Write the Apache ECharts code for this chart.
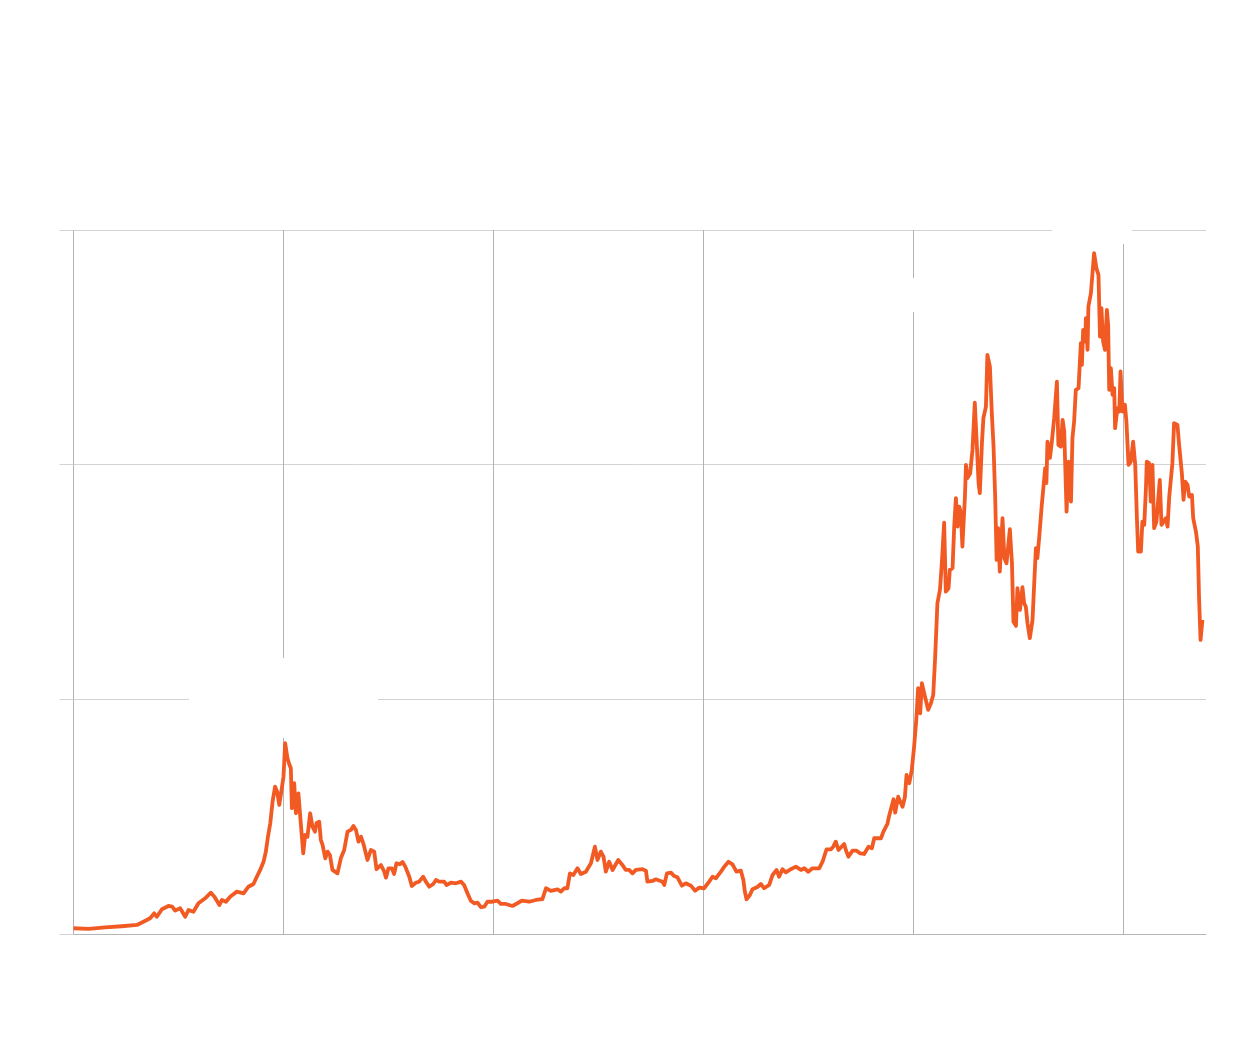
<!DOCTYPE html>
<html>
<head>
<meta charset="utf-8">
<script src="https://cdn.jsdelivr.net/npm/echarts@6/dist/echarts.min.js"></script>
<style>
  html, body { margin: 0; padding: 0; background: #ffffff; }
  #chart { width: 1248px; height: 1048px; }
</style>
</head>
<body>
<div id="chart"></div>
<script>
// Time in decimal years
const years = [
  2017.000,2017.071,2017.151,2017.230,2017.302,2017.333,2017.365,2017.384,2017.397,2017.421,
  2017.452,2017.470,2017.484,2017.508,2017.532,2017.548,2017.571,2017.595,2017.627,2017.654,
  2017.671,2017.695,2017.707,2017.726,2017.746,2017.778,2017.810,2017.833,2017.857,2017.873,
  2017.889,2017.905,2017.916,2017.926,2017.937,2017.948,2017.960,2017.970,2017.980,2017.992,
  2018.000,2018.008,2018.019,2018.027,2018.035,2018.040,2018.051,2018.059,2018.071,2018.083,
  2018.094,2018.103,2018.114,2018.127,2018.138,2018.150,2018.157,2018.170,2018.178,2018.186,
  2018.199,2018.210,2018.221,2018.233,2018.257,2018.273,2018.289,2018.305,2018.321,2018.333,
  2018.345,2018.357,2018.369,2018.380,2018.400,2018.416,2018.432,2018.443,2018.464,2018.480,
  2018.488,2018.500,2018.516,2018.527,2018.538,2018.554,2018.567,2018.580,2018.599,2018.611,
  2018.630,2018.646,2018.665,2018.678,2018.694,2018.713,2018.726,2018.741,2018.765,2018.776,
  2018.797,2018.821,2018.845,2018.860,2018.876,2018.892,2018.908,2018.924,2018.940,2018.956,
  2018.971,2018.995,2019.019,2019.035,2019.059,2019.090,2019.114,2019.135,2019.170,2019.202,
  2019.233,2019.250,2019.273,2019.305,2019.321,2019.337,2019.352,2019.364,2019.380,2019.400,
  2019.416,2019.440,2019.464,2019.483,2019.495,2019.511,2019.524,2019.535,2019.551,2019.567,
  2019.594,2019.614,2019.630,2019.646,2019.662,2019.678,2019.710,2019.726,2019.733,2019.757,
  2019.773,2019.805,2019.813,2019.826,2019.845,2019.860,2019.876,2019.897,2019.916,2019.940,
  2019.960,2019.980,2020.003,2020.027,2020.043,2020.059,2020.083,2020.099,2020.119,2020.138,
  2020.157,2020.178,2020.190,2020.197,2020.205,2020.221,2020.233,2020.257,2020.273,2020.289,
  2020.313,2020.329,2020.348,2020.360,2020.376,2020.392,2020.416,2020.440,2020.464,2020.480,
  2020.499,2020.519,2020.551,2020.567,2020.586,2020.607,2020.618,2020.630,2020.643,2020.670,
  2020.678,2020.690,2020.710,2020.729,2020.745,2020.765,2020.786,2020.802,2020.813,2020.845,
  2020.857,2020.876,2020.884,2020.905,2020.913,2020.927,2020.948,2020.959,2020.967,2020.980,
  2020.992,2021.003,2021.014,2021.022,2021.032,2021.040,2021.051,2021.070,2021.083,2021.094,
  2021.103,2021.111,2021.114,2021.126,2021.135,2021.146,2021.154,2021.167,2021.173,2021.186,
  2021.194,2021.202,2021.210,2021.218,2021.226,2021.233,2021.245,2021.250,2021.257,2021.270,
  2021.281,2021.292,2021.302,2021.310,2021.316,2021.326,2021.333,2021.345,2021.352,2021.364,
  2021.373,2021.381,2021.389,2021.396,2021.403,2021.411,2021.424,2021.433,2021.443,2021.451,
  2021.459,2021.469,2021.476,2021.488,2021.495,2021.507,2021.519,2021.527,2021.535,2021.543,
  2021.554,2021.567,2021.575,2021.583,2021.590,2021.599,2021.611,2021.617,2021.627,2021.633,
  2021.638,2021.650,2021.659,2021.670,2021.683,2021.690,2021.702,2021.710,2021.718,2021.729,
  2021.738,2021.750,2021.757,2021.765,2021.773,2021.786,2021.797,2021.802,2021.808,2021.818,
  2021.821,2021.829,2021.833,2021.845,2021.852,2021.860,2021.871,2021.881,2021.888,2021.895,
  2021.903,2021.912,2021.921,2021.927,2021.932,2021.940,2021.948,2021.956,2021.960,2021.971,
  2021.980,2021.986,2021.995,2022.007,2022.014,2022.024,2022.035,2022.046,2022.056,2022.064,
  2022.070,2022.083,2022.090,2022.099,2022.107,2022.111,2022.122,2022.130,2022.138,2022.146,
  2022.157,2022.173,2022.181,2022.190,2022.202,2022.210,2022.218,2022.226,2022.233,2022.241,
  2022.257,2022.265,2022.278,2022.286,2022.294,2022.305,2022.313,2022.326,2022.332,2022.345,
  2022.354,2022.360,2022.367,2022.376
];

// Price (thousands)
const prices = [
  0.49,0.43,0.57,0.66,0.77,1.05,1.34,1.76,1.47,2.11,
  2.39,2.33,1.99,2.19,1.47,2.05,1.90,2.62,3.04,3.52,
  3.18,2.47,2.90,2.75,3.18,3.61,3.47,4.03,4.26,4.88,
  5.46,6.16,7.02,8.29,9.44,11.28,12.56,12.11,11.00,12.42,
  13.41,16.26,14.98,14.49,14.13,10.72,12.85,10.29,11.99,9.29,
  6.88,8.44,8.29,10.29,9.15,8.72,9.44,9.57,8.01,7.59,
  6.45,7.02,6.73,5.46,5.17,6.45,7.16,8.72,8.87,9.21,
  8.87,7.87,8.29,7.73,6.31,7.16,7.02,5.52,5.88,5.31,
  4.80,5.60,5.60,5.12,6.03,5.94,6.14,5.74,4.88,4.09,
  4.37,4.46,4.88,4.46,4.03,4.26,4.60,4.46,4.46,4.18,
  4.37,4.32,4.46,4.18,3.47,2.84,2.62,2.67,2.28,2.33,
  2.75,2.75,2.84,2.56,2.56,2.39,2.62,2.84,2.75,2.90,
  2.98,3.90,3.67,3.81,3.61,3.90,3.90,5.17,5.03,5.60,
  5.12,5.31,6.03,7.44,6.31,7.02,6.59,5.31,6.16,5.46,
  6.31,5.88,5.46,5.46,5.17,5.46,5.52,5.40,4.46,4.52,
  4.66,4.46,4.18,5.17,5.23,4.94,4.83,4.12,4.32,4.12,
  3.69,3.95,3.90,4.46,4.88,4.75,5.31,5.74,6.16,5.94,
  5.31,5.40,4.60,3.61,2.96,3.32,3.81,4.01,4.26,3.90,
  4.18,5.03,5.46,4.88,5.52,5.26,5.52,5.74,5.46,5.60,
  5.31,5.60,5.60,6.16,7.22,7.22,7.44,7.87,7.16,7.67,
  7.16,6.59,7.10,7.10,6.88,6.82,7.44,7.31,8.16,8.16,
  8.72,9.38,10.06,11.48,10.34,11.70,10.85,11.65,13.55,12.85,
  13.98,15.97,18.41,20.95,18.81,21.37,20.52,19.10,19.67,20.37,
  23.50,23.50,28.19,29.33,31.60,35.06,29.18,29.47,31.03,31.18,
  34.72,37.14,34.72,36.43,35.86,33.02,37.28,39.98,38.85,39.27,
  41.26,45.29,41.54,38.42,37.57,41.83,43.96,44.95,49.36,48.36,
  44.39,41.69,37.28,31.88,34.59,30.89,35.44,32.03,31.60,31.46,
  34.50,31.60,26.62,26.26,29.47,27.62,29.56,28.19,27.90,26.49,
  25.21,26.77,29.90,32.88,32.03,33.87,36.57,37.71,39.70,38.42,
  41.97,40.58,41.97,43.96,47.08,41.69,41.54,43.82,42.82,36.00,
  40.26,36.85,42.26,43.67,46.38,46.52,50.36,48.51,51.49,50.49,
  52.49,49.79,53.48,54.62,54.62,58.03,56.75,56.18,50.92,53.34,
  50.49,49.79,53.20,51.92,46.38,48.23,45.95,46.52,43.11,44.82,
  44.53,47.94,44.53,45.10,43.67,39.98,40.26,41.97,39.98,35.44,
  32.59,32.59,35.15,34.87,38.00,40.26,40.13,36.85,39.98,34.59,
  35.15,38.70,34.87,34.72,35.44,34.72,37.28,37.42,40.13,43.54,
  43.39,41.69,39.27,37.00,38.56,38.28,37.28,37.42,35.44,34.30,
  33.02,28.62,25.06,26.77
];

const yTicks = [0, 20, 40, 60];

const seriesData = years.map((y, i) => [y, prices[i]]);

const chart = echarts.init(document.getElementById('chart'), null, { renderer: 'canvas' });

chart.setOption({
  animation: false,
  backgroundColor: '#ffffff',
  grid: { left: 73.5, top: 230, width: 1132.5, height: 704, containLabel: false },
  xAxis: {
    type: 'value',
    min: 2017,
    max: 2022.393,
    interval: 1,
    axisLine: { show: true, lineStyle: { color: '#b5b5b5', width: 1 } },
    axisTick: { show: false },
    axisLabel: { show: false },
    splitLine: { show: true, showMaxLine: false, lineStyle: { color: '#b3b3b3', width: 1 } }
  },
  yAxis: {
    type: 'value',
    min: yTicks[0],
    max: yTicks[yTicks.length - 1],
    interval: 20,
    axisLine: { show: false },
    axisTick: { show: true, length: 14, lineStyle: { color: '#d3d3d3', width: 1 } },
    axisLabel: { show: false },
    splitLine: { show: true, lineStyle: { color: '#d3d3d3', width: 1 } }
  },
  graphic: [
    { type: 'rect', z: 5, shape: { x: 189, y: 658, width: 189, height: 80 }, style: { fill: '#ffffff' } },
    { type: 'rect', z: 5, shape: { x: 1052, y: 190, width: 80, height: 54 }, style: { fill: '#ffffff' } },
    { type: 'rect', z: 5, shape: { x: 884, y: 278, width: 60, height: 34 }, style: { fill: '#ffffff' } }
  ],
  series: [{
    type: 'line',
    z: 10,
    data: seriesData,
    showSymbol: false,
    symbol: 'none',
    smooth: false,
    lineStyle: { color: '#f25a23', width: 3.8, join: 'round' }
  }]
});
</script>
</body>
</html>
